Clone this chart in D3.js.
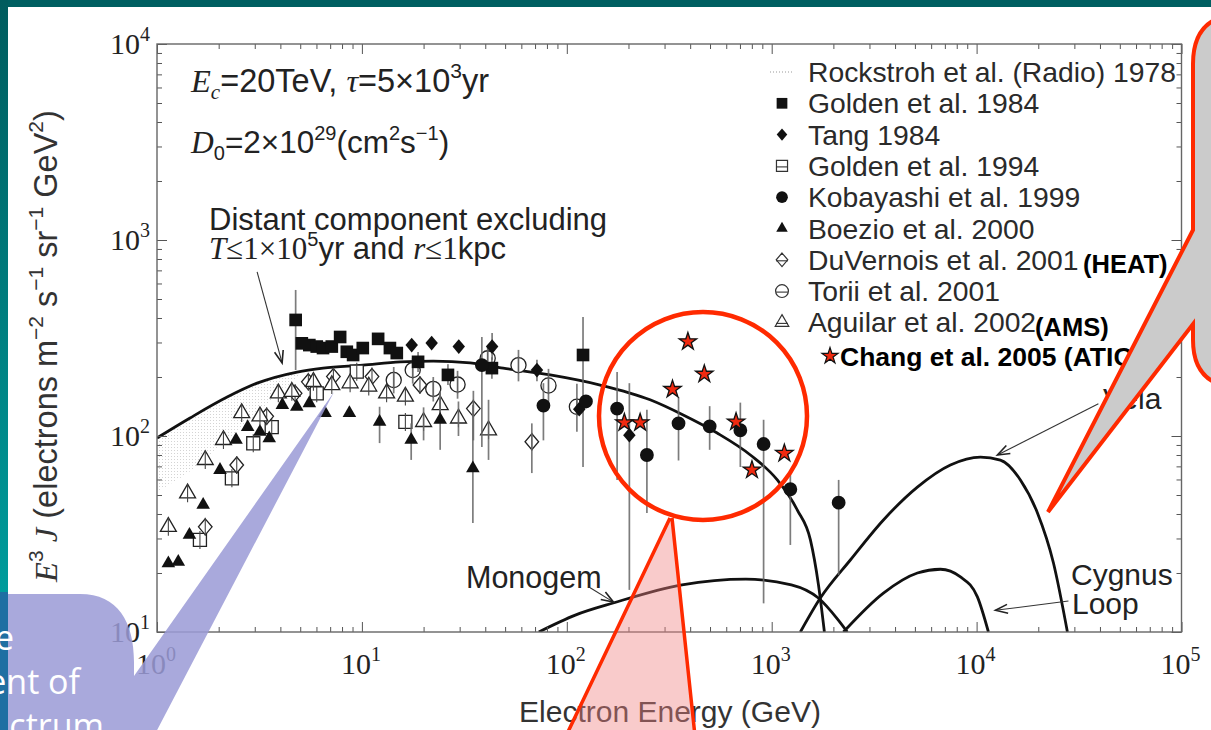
<!DOCTYPE html>
<html>
<head>
<meta charset="utf-8">
<script src="https://cdn.jsdelivr.net/npm/d3@7"></script>
<style>
  html, body { margin: 0; padding: 0; background: #fff; overflow: hidden; }
  svg { display: block; }
</style>
</head>
<body>
<svg id="chart" width="1211" height="730"></svg>
<script>
// ---- data: [energy GeV, E^3 J, errLow, errHigh] ----
const golden1984 = [
  [4.75, 391, 217, 556], [5.09, 297], [5.54, 291], [6.02, 286], [6.46, 281],
  [7.13, 286], [7.83, 320], [8.44, 269], [9.06, 259], [10.1, 281], [12.0, 313],
  [13.7, 281], [14.8, 265], [18.8, 239, 212, 268], [26.3, 205, 182, 232],
  [43.1, 222, 196, 252], [120, 259, 69.5, 405]
];
const tang1984 = [
  [17.5, 291], [21.9, 298], [29.7, 286], [43.2, 286, 245, 335], [71.5, 217, 190, 245],
  [115, 137], [202, 101, 16.4, 186]
];
const golden1994 = [
  [1.62, 29.5], [2.32, 60.8], [2.95, 91.8], [3.63, 111], [6.02, 165], [9.44, 213], [16.3, 118]
];
const kobayashi1999 = [
  [38.5, 230, 88, 320], [76.9, 143, 95, 186], [124, 150], [176, 138, 59.7, 212],
  [246, 80, 40.5, 136], [351, 116, 75, 158], [498, 112, 85, 142], [703, 107, 69.5, 148],
  [913, 91, 14, 121], [1233, 53.5, 27.8, 67], [2122, 45.7, 19.5, 59.7]
];
const boezio2000 = [
  [1.136, 22.4], [1.27, 22.8], [1.44, 31.3], [1.68, 44.5], [2.03, 67.1], [2.43, 95.5],
  [2.77, 111], [3.18, 105], [3.53, 97.3], [4.09, 144], [4.81, 141], [5.54, 147],
  [6.61, 131], [8.69, 131], [12.2, 118, 92, 141], [17.4, 95.5, 75.5, 116],
  [24.1, 121, 85, 166], [34.8, 68.4, 36, 144]
];
const duvernois2001 = [
  [1.72, 34.4], [2.45, 71.1], [3.43, 126], [4.72, 165], [5.48, 189], [7.26, 201],
  [11.2, 201], [19.2, 182], [35.0, 138, 95, 170], [67.5, 93.5, 64.7, 116]
];
const torii2001 = [
  [14.3, 193, 165, 225], [17.7, 217, 185, 250], [22.3, 174, 150, 200], [29.3, 183, 155, 215],
  [41.1, 249, 210, 290], [58.1, 230, 190, 275], [81.4, 181, 145, 220], [112, 141, 105, 185]
];
const aguilar2002 = [
  [1.136, 34.4], [1.41, 51], [1.72, 75.5], [2.11, 95.5], [2.59, 131], [3.18, 126],
  [3.91, 165], [4.55, 168], [5.80, 189], [7.13, 182], [8.76, 186], [10.8, 179],
  [13.2, 165], [16.3, 159], [20.0, 118, 95, 140], [24.1, 144, 120, 170],
  [29.6, 123, 100, 150], [41.5, 107, 75.5, 153]
];
const chang2005 = [
  [191, 117], [228, 117], [328, 173], [390, 303], [469, 207], [670, 118], [801, 67.1], [1153, 81.6]
];

// model curves [energy, E^3 J]
const distantCurve = [
  [1, 97.7], [1.45, 123.6], [2.2, 158], [3.08, 186], [4.83, 212], [6.47, 222], [10.1, 230],
  [15.4, 239], [22.3, 241], [33.8, 236], [48.9, 222], [83, 205], [145.6, 182], [255, 153],
  [370, 128], [542, 103.5], [787, 80], [1065, 59.7], [1334, 41.9], [1545, 29.5],
  [1690, 17.5], [1808, 10]
];
const monogemCurve = [
  [73, 10], [110, 12.2], [170, 14.1], [365, 17.4], [748, 18.6], [1247, 17.4],
  [1690, 14.9], [2100, 11.6], [2339, 10]
];
const velaCurve = [
  [1380, 10], [1727, 14.9], [2420, 23.3], [3510, 37.3], [5140, 54.9], [7450, 71.2],
  [10440, 78.1], [13070, 75.4], [16360, 59.7], [19820, 40.5], [23720, 22.5], [27750, 10]
];
const cygnusCurve = [
  [2238, 10], [3510, 15.8], [5140, 20], [6660, 20.9], [8340, 19.1], [10090, 15.1], [11420, 10]
];
// radio band [energy, low, high]
const rockstrohBand = [
  [1, 52, 97.7], [1.45, 66, 123.6], [2.2, 95, 158], [3.08, 130, 186], [4.2, 175, 205], [5.2, 212, 214]
];

const legendNames = [
  'Rockstroh et al. (Radio) 1978', 'Golden et al. 1984', 'Tang 1984', 'Golden et al. 1994',
  'Kobayashi et al. 1999', 'Boezio et al. 2000', 'DuVernois et al. 2001', 'Torii et al. 2001',
  'Aguilar et al. 2002'
];
const xExponents = [0, 1, 2, 3, 4, 5];
const yExponents = [1, 2, 3, 4];

// ---- chart ----
const W = 1211, H = 730;
const frame = {left: 157, right: 1181.5, top: 44, bottom: 632};
const ink = '#222';
const sans = 'Liberation Sans, Arial, sans-serif';
const serif = 'Liberation Serif, Times New Roman, serif';

const x = d3.scaleLog().domain([1, 1e5]).range([frame.left, frame.right]);
const y = d3.scaleLog().domain([10, 1e4]).range([frame.bottom, frame.top]);

const svg = d3.select('#chart');
const defs = svg.append('defs');

// slide background
const lg = defs.append('linearGradient').attr('id', 'leftBand').attr('x1', 0).attr('y1', 0).attr('x2', 0).attr('y2', 1);
lg.append('stop').attr('offset', '0%').attr('stop-color', '#005c5e');
lg.append('stop').attr('offset', '100%').attr('stop-color', '#009c9c');
svg.append('rect').attr('width', W).attr('height', H).attr('fill', '#fff');
svg.append('rect').attr('x', 0).attr('y', 0).attr('width', W).attr('height', 7).attr('fill', '#005f61');
svg.append('rect').attr('x', 0).attr('y', 0).attr('width', 8).attr('height', 592).attr('fill', 'url(#leftBand)');
svg.append('rect').attr('x', 0).attr('y', 592).attr('width', 8).attr('height', 140).attr('fill', '#1f6fa2');

defs.append('clipPath').attr('id', 'plotClip').append('rect')
  .attr('x', frame.left).attr('y', frame.top)
  .attr('width', frame.right - frame.left).attr('height', frame.bottom - frame.top);

// stipple pattern for the radio band
const pat = defs.append('pattern').attr('id', 'stipple').attr('patternUnits', 'userSpaceOnUse')
  .attr('width', 3).attr('height', 3);
pat.append('rect').attr('width', 1).attr('height', 1).attr('fill', '#d4d4d4');

const plot = svg.append('g').attr('clip-path', 'url(#plotClip)');

plot.append('path').datum(rockstrohBand)
  .attr('d', d3.area().x(d => x(d[0])).y0(d => y(d[1])).y1(d => y(d[2])).curve(d3.curveMonotoneX))
  .attr('fill', 'url(#stipple)');

// axes: inward minor + major ticks on all four sides
const isMajor = t => Math.abs(Math.log10(t) - Math.round(Math.log10(t))) < 1e-9;
const xMinor = x.ticks().filter(t => !isMajor(t));
const xMajor = x.ticks().filter(isMajor);
const yMinor = y.ticks().filter(t => !isMajor(t));
const yMajor = y.ticks().filter(isMajor);

function axisG(axis, tx, ty) {
  const g = svg.append('g').attr('transform', `translate(${tx},${ty})`).call(axis);
  g.select('.domain').remove();
  g.selectAll('line').attr('stroke', '#555').attr('stroke-width', 1);
  return g;
}
[[xMinor, 5], [xMajor, 10]].forEach(([vals, len]) => {
  axisG(d3.axisBottom(x).tickValues(vals).tickSize(-len).tickFormat(''), 0, frame.bottom);
  axisG(d3.axisTop(x).tickValues(vals).tickSize(-len).tickFormat(''), 0, frame.top);
});
[[yMinor, 5], [yMajor, 10]].forEach(([vals, len]) => {
  axisG(d3.axisLeft(y).tickValues(vals).tickSize(-len).tickFormat(''), frame.left, 0);
  axisG(d3.axisRight(y).tickValues(vals).tickSize(-len).tickFormat(''), frame.right, 0);
});
svg.append('rect').attr('x', frame.left).attr('y', frame.top)
  .attr('width', frame.right - frame.left).attr('height', frame.bottom - frame.top)
  .attr('fill', 'none').attr('stroke', '#666').attr('stroke-width', 1.4);

// rich text helper (sup / sub / serif / italic parts)
function rich(sel, parts, fs) {
  let shift = 0;
  parts.forEach(p => {
    const target = p.sup ? -fs * 0.42 : p.sub ? fs * 0.22 : 0;
    const ts = sel.append('tspan').attr('dy', target - shift).text(p.t);
    shift = target;
    if (p.sup || p.sub) ts.attr('font-size', Math.round(fs * 0.65));
    if (p.serif) ts.attr('font-family', serif);
    if (p.it) ts.attr('font-style', 'italic');
  });
  return sel;
}

// tick labels
xExponents.forEach(k => {
  const t = svg.append('text').attr('x', x(Math.pow(10, k)) - 1).attr('y', 674)
    .attr('text-anchor', 'middle').attr('font-family', serif).attr('font-size', 30).attr('fill', ink);
  rich(t, [{t: '10'}, {t: String(k), sup: true}], 30);
});
yExponents.forEach(k => {
  const t = svg.append('text').attr('x', 150).attr('y', y(Math.pow(10, k)) + 10)
    .attr('text-anchor', 'end').attr('font-family', serif).attr('font-size', 30).attr('fill', ink);
  rich(t, [{t: '10'}, {t: String(k), sup: true}], 30);
});

// axis titles
svg.append('text').attr('x', 670).attr('y', 722).attr('text-anchor', 'middle')
  .attr('font-family', sans).attr('font-size', 30).attr('fill', '#333').text('Electron Energy (GeV)');
rich(svg.append('text').attr('transform', 'translate(57,346) rotate(-90)').attr('text-anchor', 'middle')
  .attr('font-family', sans).attr('font-size', 32.5).attr('fill', '#333'), [
  {t: 'E', serif: true, it: true}, {t: '3', sup: true}, {t: ' J', serif: true, it: true},
  {t: ' (electrons m'}, {t: '\u22122', sup: true}, {t: ' s'}, {t: '\u22121', sup: true},
  {t: ' sr'}, {t: '\u22121', sup: true}, {t: ' GeV'}, {t: '2', sup: true}, {t: ')'}
], 32.5);

// model curves
const line = d3.line().x(d => x(d[0])).y(d => y(d[1])).curve(d3.curveMonotoneX);
[distantCurve, monogemCurve, velaCurve, cygnusCurve].forEach(c => {
  plot.append('path').datum(c).attr('d', line)
    .attr('fill', 'none').attr('stroke', '#111').attr('stroke-width', 2.8);
});

// marker shapes
const tallDiamond = {
  draw(ctx, size) {
    const h = Math.sqrt(size) * 0.58, w = h * 0.85;
    ctx.moveTo(0, -h); ctx.lineTo(w, 0); ctx.lineTo(0, h); ctx.lineTo(-w, 0); ctx.closePath();
  }
};
const series = [
  {data: golden1984, type: d3.symbolSquare, size: 160, filled: true},
  {data: tang1984, type: tallDiamond, size: 160, filled: true},
  {data: golden1994, type: d3.symbolSquare, size: 170, filled: false},
  {data: kobayashi1999, type: d3.symbolCircle, size: 150, filled: true},
  {data: boezio2000, type: d3.symbolTriangle, size: 80, filled: true},
  {data: duvernois2001, type: tallDiamond, size: 190, filled: false},
  {data: torii2001, type: d3.symbolCircle, size: 180, filled: false},
  {data: aguilar2002, type: d3.symbolTriangle, size: 110, filled: false}
];

const marks = plot.append('g');
// open markers first (white), error bars over them, filled markers on top
series.filter(s => !s.filled).forEach(s => {
  marks.selectAll(null).data(s.data).enter().append('path')
    .attr('transform', d => `translate(${x(d[0])},${y(d[1])})`)
    .attr('d', d3.symbol().type(s.type).size(s.size))
    .attr('fill', '#fff').attr('stroke', '#222').attr('stroke-width', 1.3);
  marks.selectAll(null).data(s.data).enter().append('line')
    .attr('x1', d => x(d[0])).attr('x2', d => x(d[0]))
    .attr('y1', d => y(d[1]) - 9).attr('y2', d => y(d[1]) + 9)
    .attr('stroke', '#444').attr('stroke-width', 1.1);
});
const allErr = series.concat([{data: chang2005}]).flatMap(s => s.data.filter(d => d.length > 2));
marks.selectAll(null).data(allErr).enter().append('line')
  .attr('x1', d => x(d[0])).attr('x2', d => x(d[0]))
  .attr('y1', d => y(d[2])).attr('y2', d => y(d[3]))
  .attr('stroke', '#666').attr('stroke-width', 1.7).attr('opacity', 0.85);
series.filter(s => s.filled).forEach(s => {
  marks.selectAll(null).data(s.data).enter().append('path')
    .attr('transform', d => `translate(${x(d[0])},${y(d[1])})`)
    .attr('d', d3.symbol().type(s.type).size(s.size))
    .attr('fill', '#111');
});
marks.selectAll(null).data(chang2005).enter().append('path')
  .attr('transform', d => `translate(${x(d[0])},${y(d[1])})`)
  .attr('d', d3.symbol().type(d3.symbolStar).size(95))
  .attr('fill', '#f02a10').attr('stroke', '#111').attr('stroke-width', 1.3);

// legend
const legX = 782, legTextX = 808, legY0 = 72, legStep = 31.3;
legendNames.forEach((name, i) => {
  svg.append('text').attr('x', legTextX).attr('y', legY0 + i * legStep + 10)
    .attr('font-family', sans).attr('font-size', 28.3).attr('fill', '#2a2a2a').text(name);
});
svg.append('line').attr('x1', legX - 12).attr('x2', legX + 12).attr('y1', legY0).attr('y2', legY0)
  .attr('stroke', '#ccc').attr('stroke-width', 2).attr('stroke-dasharray', '1,2');
series.forEach((s, i) => {
  const cy = legY0 + (i + 1) * legStep;
  svg.append('path').attr('transform', `translate(${legX},${cy})`)
    .attr('d', d3.symbol().type(s.type).size(s.size * 0.72))
    .attr('fill', s.filled ? '#111' : '#fff').attr('stroke', s.filled ? 'none' : '#333').attr('stroke-width', 1.2);
  if (!s.filled) {
    svg.append('line').attr('x1', legX - 6).attr('x2', legX + 6).attr('y1', cy + 1).attr('y2', cy + 1)
      .attr('stroke', '#333').attr('stroke-width', 1.1);
  }
});
svg.append('path').attr('transform', 'translate(830,356)')
  .attr('d', d3.symbol().type(d3.symbolStar).size(80))
  .attr('fill', '#f02a10').attr('stroke', '#111').attr('stroke-width', 1.2);
svg.append('text').attr('x', 840).attr('y', 366).attr('font-family', sans).attr('font-weight', 'bold')
  .attr('font-size', 26.5).attr('fill', '#000').text('Chang et al. 2005 (ATIC)');
svg.append('text').attr('x', 1083).attr('y', 273).attr('font-family', sans).attr('font-weight', 'bold')
  .attr('font-size', 25.5).attr('fill', '#000').text('(HEAT)');
svg.append('text').attr('x', 1035).attr('y', 336).attr('font-family', sans).attr('font-weight', 'bold')
  .attr('font-size', 25.5).attr('fill', '#000').text('(AMS)');

// in-plot annotations
rich(svg.append('text').attr('x', 191).attr('y', 92).attr('font-family', sans).attr('font-size', 32.5).attr('fill', ink), [
  {t: 'E', serif: true, it: true}, {t: 'c', serif: true, it: true, sub: true}, {t: '=20TeV, '},
  {t: '\u03c4', serif: true, it: true}, {t: '=5\u00d710'}, {t: '3', sup: true}, {t: 'yr'}
], 32.5);
rich(svg.append('text').attr('x', 191).attr('y', 153).attr('font-family', sans).attr('font-size', 31.5).attr('fill', ink), [
  {t: 'D', serif: true, it: true}, {t: '0', sub: true}, {t: '=2\u00d710'}, {t: '29', sup: true},
  {t: '(cm'}, {t: '2', sup: true}, {t: 's'}, {t: '\u22121', sup: true}, {t: ')'}
], 31.5);
svg.append('text').attr('x', 209).attr('y', 230).attr('font-family', sans).attr('font-size', 31)
  .attr('fill', ink).text('Distant component excluding');
rich(svg.append('text').attr('x', 209).attr('y', 259).attr('font-family', sans).attr('font-size', 31).attr('fill', ink), [
  {t: 'T', serif: true, it: true}, {t: '\u22641\u00d710', serif: true}, {t: '5', sup: true},
  {t: 'yr and '}, {t: 'r', serif: true, it: true}, {t: '\u22641', serif: true}, {t: 'kpc'}
], 31);
svg.append('text').attr('x', 466).attr('y', 588).attr('font-family', sans).attr('font-size', 30.5)
  .attr('fill', ink).text('Monogem');
svg.append('text').attr('x', 1103).attr('y', 409).attr('font-family', sans).attr('font-size', 30)
  .attr('fill', ink).text('Vela');
svg.append('text').attr('x', 1071).attr('y', 585).attr('font-family', sans).attr('font-size', 30)
  .attr('fill', ink).text('Cygnus');
svg.append('text').attr('x', 1072).attr('y', 614).attr('font-family', sans).attr('font-size', 30)
  .attr('fill', ink).text('Loop');

// annotation arrows, [from, to] in data units
const arrows = [
  [[3.08, 687], [4.08, 236]],
  [[130, 16.8], [169, 14.2]],
  [[39300, 146], [12640, 80]],
  [[28070, 14.4], [12360, 12.9]]
];
arrows.forEach(([a, b]) => {
  const x1 = x(a[0]), y1 = y(a[1]), x2 = x(b[0]), y2 = y(b[1]);
  const ang = Math.atan2(y2 - y1, x2 - x1), L = 13, spread = 0.35;
  svg.append('line').attr('x1', x1).attr('y1', y1).attr('x2', x2).attr('y2', y2)
    .attr('stroke', '#333').attr('stroke-width', 1.1);
  svg.append('path')
    .attr('d', `M${x2 - L * Math.cos(ang - spread)},${y2 - L * Math.sin(ang - spread)}L${x2},${y2}L${x2 - L * Math.cos(ang + spread)},${y2 - L * Math.sin(ang + spread)}`)
    .attr('fill', 'none').attr('stroke', '#222').attr('stroke-width', 1.6);
});

// ---- slide overlays ----
// highlight circle around ATIC points
svg.append('ellipse').attr('cx', 703).attr('cy', 416).attr('rx', 104).attr('ry', 104)
  .attr('fill', 'none').attr('stroke', '#ff2a00').attr('stroke-width', 4.5);

// grey callout (top right)
svg.append('path')
  .attr('d', 'M1193,230 L1193,64 Q1193,14 1243,14 L1260,14 L1260,388 L1243,388 Q1193,388 1193,340 L1193,324 L1048,512 Z')
  .attr('fill', '#cbcbcb').attr('stroke', '#ff2a00').attr('stroke-width', 4).attr('stroke-linejoin', 'miter');

// pink wedge below circle
svg.append('path').attr('d', 'M670,518 L566,736 L695,736 L672,518 Z')
  .attr('fill', 'rgba(240,130,130,0.42)').attr('stroke', 'none');
svg.append('path').attr('d', 'M670,518 L566,736 M672,518 L695,736')
  .attr('fill', 'none').attr('stroke', '#ff2a00').attr('stroke-width', 3.5);

// lavender callout (bottom left)
svg.append('path')
  .attr('d', 'M8,594 L80,594 C118,594 134,622 134,662 L134,676 L334,392 L154,736 L8,736 Z')
  .attr('fill', 'rgb(155,155,214)').attr('opacity', 0.86);
[['e', 14, 650], ['ent of', 80, 694], ['ctrum', 104, 738]].forEach(([t, tx, ty]) => {
  svg.append('text').attr('x', tx).attr('y', ty).attr('text-anchor', 'end')
    .attr('font-family', 'Open Sans, DejaVu Sans, sans-serif').attr('font-size', 34)
    .attr('fill', '#fff').text(t);
});
</script>
</body>
</html>
